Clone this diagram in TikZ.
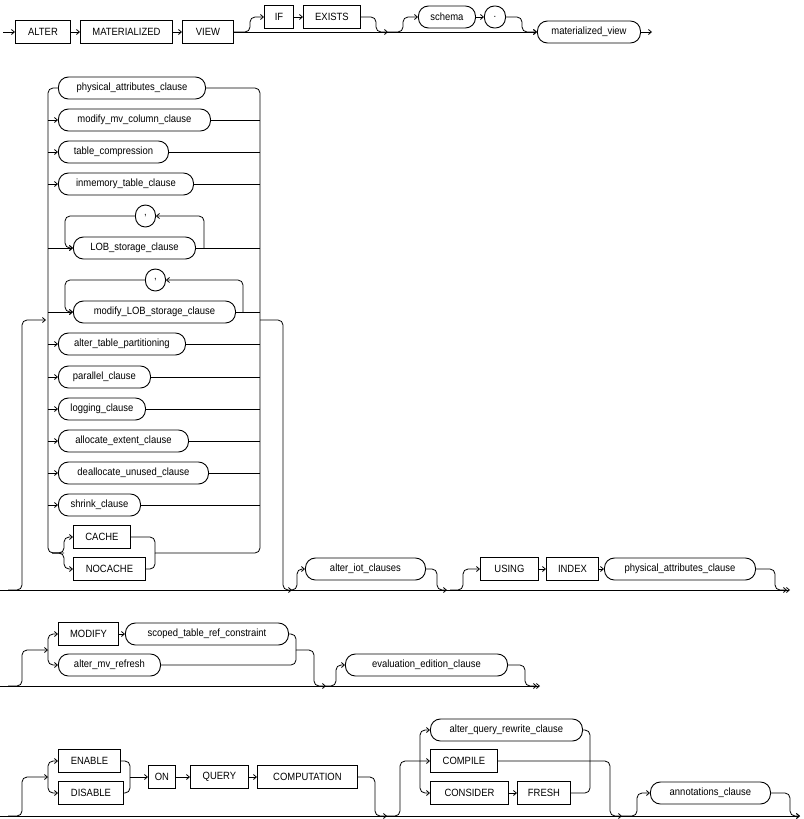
\documentclass[tikz,border=0pt]{standalone}
\usepackage{fontspec}
\setmainfont{Liberation Sans}[FakeStretch=0.9]
\usetikzlibrary{arrows.meta}
\tikzset{
  kw/.style={rectangle, draw=black, line width=0.9pt, minimum height=23, inner sep=0pt, anchor=west, font=\fontsize{10.5}{12}\selectfont},
  nt/.style={rectangle, rounded corners=10pt, draw=black, line width=0.9pt, minimum height=22, inner sep=0pt, anchor=west, font=\fontsize{10.5}{12}\selectfont},
  rc/.style={rounded corners=5pt, line width=0.8pt},
  arr/.style={rc, -{Straight Barb[length=3pt,width=5pt]}}
}
\begin{document}
\begin{tikzpicture}[x=1pt,y=-1pt,line width=0.8pt]
\useasboundingbox (0,0) rectangle (803,819);
% first line
\node (alter) [kw, minimum width=55] at (15,32) {ALTER};
\node (mat) [kw, minimum width=92] at (80,32) {MATERIALIZED};
\node (view) [kw, minimum width=51] at (182,32) {VIEW};
\node (if) [kw, minimum width=29] at (264,17) {IF};
\node (exists) [kw, minimum width=57] at (303,17) {EXISTS};
\node (schema) [nt, minimum width=57] at (418,17) {schema};
\node (dot) [nt, minimum width=21] at (484,17) {.};
\node (mview) [nt, minimum width=103] at (537,32) {materialized\_view};
\draw [arr] (3,32) -- (alter);
\draw [arr] (alter) -- (mat);
\draw [arr] (mat) -- (view);
\draw [arr] (view) -- (mview);
\draw [arr] (view.east) -| (250,17) -- (if);
\draw [arr] (if) -- (exists);
\draw [arr] (exists.east) -| (376,32) -- (388,32);
\draw [arr] (388,32) -| (403,17) -- (schema);
\draw [arr] (schema) -- (dot);
\draw [arr] (dot.east) -| (522,32) -- (mview);
\draw [arr] (mview) -- (652,32);

% second line
\coordinate (lrail) at (48,0);
\coordinate (rrail) at (260,0);
\node (pac) [nt, minimum width=147] at (58,88) {physical\_attributes\_clause};
\node (mmc) [nt, minimum width=152] at (58,120) {modify\_mv\_column\_clause};
\node (tc) [nt, minimum width=110] at (58,152) {table\_compression};
\node (itc) [nt, minimum width=135] at (58,184) {inmemory\_table\_clause};
\node (comma1) [nt, minimum width=20] at (135,216) {,};
\node (lob) [nt, minimum width=122] at (73,248) {LOB\_storage\_clause};
\node (comma2) [nt, minimum width=20] at (145,280) {,};
\node (mlob) [nt, minimum width=162] at (73,312) {modify\_LOB\_storage\_clause};
\node (atp) [nt, minimum width=127] at (58,344) {alter\_table\_partitioning};
\node (pc) [nt, minimum width=92] at (58,377) {parallel\_clause};
\node (lc) [nt, minimum width=87] at (58,409) {logging\_clause};
\node (aec) [nt, minimum width=130] at (58,441) {allocate\_extent\_clause};
\node (duc) [nt, minimum width=150] at (58,473) {deallocate\_unused\_clause};
\node (sc) [nt, minimum width=82] at (58,505) {shrink\_clause};
\node (cache) [kw, minimum width=57] at (73,537) {CACHE};
\node (nocache) [kw, minimum width=72] at (73,569) {NOCACHE};
\node (iot) [nt, minimum width=120] at (305,569) {alter\_iot\_clauses};
\node (using) [kw, minimum width=58] at (480,569) {USING};
\node (index) [kw, minimum width=52] at (546,569) {INDEX};
\node (pac2) [nt, minimum width=151] at (604,569) {physical\_attributes\_clause};
\draw [arr] (0,590) -- (790,590);
\draw [arr] (8,590) -| (22,320) -- (46,320);
\draw [rc] (pac.west) -| (48,553) -- (64,553);
\draw [rc] (155,553) -- (260,553) |- (pac.east);
\foreach \n in {mmc,tc,itc,lob,mlob,atp,pc,lc,aec,duc,sc} {
  \draw [arr] (\n.west -| lrail) -- (\n.west);
  \draw (\n.east) -- (\n.east -| rrail);
}
\draw [arr] (204,248) |- (comma1.east);
\draw [arr] (comma1.west) -| (65,248) -- (lob.west);
\draw [arr] (243,312) |- (comma2.east);
\draw [arr] (comma2.west) -| (65,312) -- (mlob.west);
\draw [arr] (52,553) -| (64,537) -- (cache);
\draw [arr] (52,553) -| (64,569) -- (nocache);
\draw [rc] (cache.east) -| (155,553);
\draw [rc] (nocache.east) -| (155,553);
\draw [arr] (260,320) -| (283,590) -- (292,590);
\draw [arr] (290,590) -| (297,569) -- (iot);
\draw [arr] (iot.east) -| (437,590) -- (447,590);
\draw [arr] (450,590) -| (463,569) -- (using);
\draw [arr] (using) -- (index);
\draw [arr] (index) -- (pac2);
\draw [arr] (pac2.east) -| (775,590) -- (787,590);

% third line
\node (modify) [kw, minimum width=60] at (58,634) {MODIFY};
\node (stc) [nt, minimum width=163] at (125,634) {scoped\_table\_ref\_constraint};
\node (amr) [nt, minimum width=102] at (58,665) {alter\_mv\_refresh};
\node (eec) [nt, minimum width=162] at (345,665) {evaluation\_edition\_clause};
\draw [arr] (0,686) -- (540,686);
\draw [arr] (8,686) -| (22,650) -- (48,650);
\draw [arr] (48,650) |- (modify);
\draw [arr] (48,650) |- (amr);
\draw [arr] (modify) -- (stc);
\draw [rc] (stc.east) -| (296,650);
\draw [rc] (amr.east) -| (296,650);
\draw [arr] (296,650) -| (314,686) -- (326,686);
\draw [arr] (326,686) -| (336,665) -- (eec);
\draw [arr] (eec.east) -| (525,686) -- (537,686);

% fourth line
\node (enable) [kw, minimum width=62] at (58,761) {ENABLE};
\node (disable) [kw, minimum width=65] at (58,793) {DISABLE};
\node (on) [kw, minimum width=27] at (148,777) {ON};
\node (query) [kw, minimum width=58] at (190,777) {QUERY};
\node (comp) [kw, minimum width=100] at (257,777) {COMPUTATION};
\node (aqrc) [nt, minimum width=152] at (430,730) {alter\_query\_rewrite\_clause};
\node (compile) [kw, minimum width=67] at (430,761) {COMPILE};
\node (consider) [kw, minimum width=78] at (430,793) {CONSIDER};
\node (fresh) [kw, minimum width=53] at (517,793) {FRESH};
\node (ann) [nt, minimum width=120] at (650,793) {annotations\_clause};
\draw [arr] (0,816) -- (800,816);
\draw [arr] (8,816) -| (22,777) -- (48,777);
\draw [arr] (48,777) |- (enable);
\draw [arr] (48,777) |- (disable);
\draw [rc] (enable.east) -| (130,777);
\draw [rc] (disable.east) -| (130,777);
\draw [arr] (130,777) -- (on);
\draw [arr] (on) -- (query);
\draw [arr] (query) -- (comp);
\draw [arr] (comp.east) -| (375,816) -- (387,816);
\draw [arr] (385,816) -| (400,761) -- (compile);
\draw [arr] (420,761) |- (aqrc);
\draw [arr] (420,761) |- (consider);
\draw [arr] (consider) -- (fresh);
\draw [rc] (aqrc.east) -| (590,761);
\draw [rc] (fresh.east) -| (590,761);
\draw [arr] (compile.east) -| (610,816) -- (622,816);
\draw [arr] (622,816) -| (637,793) -- (ann);
\draw [arr] (ann.east) -| (790,816) -- (800,816);
\end{tikzpicture}
\end{document}
